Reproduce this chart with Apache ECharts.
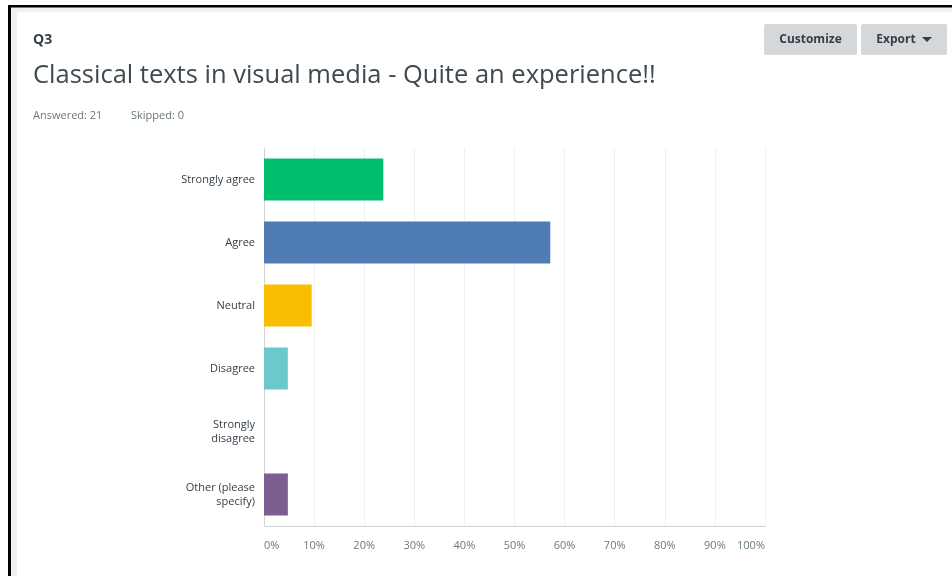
<!DOCTYPE html>
<html>
<head>
<meta charset="utf-8">
<script src="https://cdn.jsdelivr.net/npm/echarts@6/dist/echarts.min.js"></script>
<style>
html,body{margin:0;padding:0;background:#fff;}
#chart{width:952px;height:576px;}
</style>
</head>
<body>
<div id="chart"></div>
<script>
const categories = ['Strongly agree', 'Agree', 'Neutral', 'Disagree', 'Strongly disagree', 'Other (please specify)'];
const percentages = [23.81, 57.14, 9.52, 4.76, 0, 4.76];
const barColors = ['#00bf6f', '#507cb6', '#f9be00', '#6bc8cd', '#ff8b4f', '#7d5e90'];
const xTicks = [0, 10, 20, 30, 40, 50, 60, 70, 80, 90, 100];
const questionId = 'Q3';
const questionTitle = 'Classical texts in visual media - Quite an experience!!';
const answeredText = 'Answered: 21';
const skippedText = 'Skipped: 0';

const FONT = '"Open Sans", "Noto Sans", sans-serif';
const chart = echarts.init(document.getElementById('chart'), null, {renderer: 'canvas'});

function wrapLabel(s) {
  if (s.length <= 15) return s;
  const i = s.lastIndexOf(' ');
  return s.slice(0, i) + '\n' + s.slice(i + 1);
}

const option = {
  backgroundColor: '#ffffff',
  animation: false,
  textStyle: {fontFamily: FONT},
  title: [
    {text: questionId, left: 28, top: 28, textStyle: {fontFamily: FONT, fontSize: 14, fontWeight: 'bold', color: '#333e48'}},
    {text: questionTitle, left: 28, top: 58, textStyle: {fontFamily: FONT, fontSize: 25.5, fontWeight: 'normal', color: '#3f4950'}},
    {text: answeredText, left: 28, top: 105, textStyle: {fontFamily: FONT, fontSize: 11, fontWeight: 'normal', color: '#6b787f'}},
    {text: skippedText, left: 126, top: 105, textStyle: {fontFamily: FONT, fontSize: 11, fontWeight: 'normal', color: '#6b787f'}}
  ],
  graphic: [
    {type: 'rect', z: -10, silent: true, shape: {x: 10, y: 7, width: 942, height: 569}, style: {fill: '#f1f1f1'}},
    {type: 'rect', z: -9, silent: true, shape: {x: 17, y: 12, width: 945, height: 580, r: 4}, style: {fill: '#ffffff'}},
    {type: 'rect', z: 10, silent: true, shape: {x: 8, y: 5, width: 3, height: 571}, style: {fill: '#000000'}},
    {type: 'rect', z: 10, silent: true, shape: {x: 8, y: 5, width: 944, height: 2.5}, style: {fill: '#000000'}},
    {type: 'rect', silent: true, shape: {x: 764, y: 24, width: 93, height: 31, r: 2}, style: {fill: '#d5d8da'}},
    {type: 'text', silent: true, x: 810.5, y: 39.5, style: {text: 'Customize', fill: '#333e48', font: 'bold 12px ' + FONT, align: 'center', verticalAlign: 'middle'}},
    {type: 'rect', silent: true, shape: {x: 861, y: 24, width: 86, height: 31, r: 2}, style: {fill: '#d5d8da'}},
    {type: 'text', silent: true, x: 896, y: 39.5, style: {text: 'Export', fill: '#333e48', font: 'bold 12px ' + FONT, align: 'center', verticalAlign: 'middle'}},
    {type: 'polygon', silent: true, shape: {points: [[922, 37], [932, 37], [927, 42]]}, style: {fill: '#333e48'}}
  ],
  grid: {left: 264, right: 187, top: 148, bottom: 50, containLabel: false},
  xAxis: {
    type: 'value', min: 0, max: 100, interval: 10,
    axisLine: {show: true, lineStyle: {color: '#d0d3d6', width: 1}},
    axisTick: {show: false},
    splitLine: {show: true, lineStyle: {color: '#eff0f1', width: 1}},
    axisLabel: {
      formatter: function (v) { return xTicks.indexOf(v) >= 0 ? v + '%' : ''; },
      color: '#6b787f', fontSize: 11, margin: 14, fontFamily: FONT,
      alignMinLabel: 'left', alignMaxLabel: 'right'
    }
  },
  yAxis: {
    type: 'category', data: categories, inverse: true,
    axisLine: {show: true, lineStyle: {color: '#d0d3d6', width: 1}},
    axisTick: {show: false},
    splitLine: {show: false},
    axisLabel: {
      formatter: wrapLabel, color: '#333e48', fontSize: 11, margin: 9,
      lineHeight: 14, fontFamily: FONT, align: 'right'
    }
  },
  series: [{
    type: 'bar',
    data: percentages.map((v, i) => ({value: v, itemStyle: {color: barColors[i]}})),
    barCategoryGap: '33%',
    label: {show: false}
  }]
};
chart.setOption(option);
</script>
</body>
</html>
